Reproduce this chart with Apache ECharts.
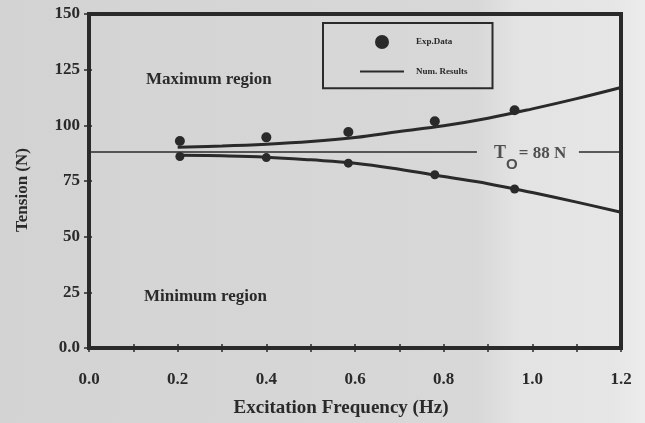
<!DOCTYPE html>
<html>
<head>
<meta charset="utf-8">
<script src="https://cdn.jsdelivr.net/npm/echarts@6/dist/echarts.min.js"></script>
<style>
html,body{margin:0;padding:0;background:#d6d6d6;}
#chart{width:645px;height:423px;}
</style>
</head>
<body>
<div id="chart"></div>
<script>
// Experimental data (dots)
const freqExp = [0.205, 0.4, 0.585, 0.78, 0.96];
const maxExp = [93, 94.6, 97, 101.8, 106.8];
const minExp = [86, 85.5, 83, 77.8, 71.4];
// Numerical results (curves)
const freqNum = [0.2, 0.3, 0.4, 0.5, 0.6, 0.7, 0.8, 0.9, 1.0, 1.1, 1.2];
const maxNum = [90.2, 90.7, 91.5, 92.7, 94.5, 97.2, 99.8, 103.2, 107.4, 112, 117];
const minNum = [86.6, 86.3, 85.7, 84.5, 83, 80.3, 77, 73.8, 69.8, 65.5, 61];
// Static tension line T0 with a gap for its label
const T0 = 88;
const t0LeftX = [0, 0.875];
const t0RightX = [1.105, 1.2];
const t0LabelX = 0.995;
// Axis ticks
const xTicks = [0.0, 0.2, 0.4, 0.6, 0.8, 1.0, 1.2];
const yTicks = [0, 25, 50, 75, 100, 125, 150];

const ink = '#2a2a2a';
const serif = '"Liberation Serif", "DejaVu Serif", serif';
const zip = (xs, ys) => xs.map((x, i) => [x, ys[i]]);

const tickStyle = {color: ink, width: 1.5};
const chart = echarts.init(document.getElementById('chart'));
chart.setOption({
  backgroundColor: new echarts.graphic.LinearGradient(0, 0, 1, 0, [
    {offset: 0, color: '#d3d3d3'},
    {offset: 0.74, color: '#d8d8d8'},
    {offset: 0.8, color: '#e3e3e3'},
    {offset: 0.95, color: '#e6e6e6'},
    {offset: 1, color: '#ececec'}
  ]),
  animation: false,
  grid: {left: 89, right: 24, top: 14, bottom: 71, show: true, borderColor: ink, borderWidth: 4, backgroundColor: 'transparent'},
  legend: {
    left: 323, top: 23, orient: 'vertical',
    itemWidth: 44, itemHeight: 14, itemGap: 17,
    padding: [12, 25, 11, 36],
    borderColor: ink, borderWidth: 2,
    data: [
      {name: 'Exp.Data', icon: 'circle'},
      {name: 'Num. Results', itemStyle: {opacity: 0}, lineStyle: {width: 2, color: ink}}
    ],
    textStyle: {fontFamily: serif, fontWeight: 'bold', fontSize: 9, color: ink, padding: [0, 0, 0, 7]}
  },
  xAxis: [{
    type: 'value', min: 0, max: 1.2, interval: 0.1, position: 'bottom',
    name: 'Excitation Frequency (Hz)', nameLocation: 'middle', nameGap: 51,
    nameTextStyle: {fontFamily: serif, fontWeight: 'bold', fontSize: 19, color: ink, padding: [0, 28, 0, 0]},
    axisLine: {show: true, lineStyle: {color: ink, width: 4}},
    axisTick: {show: true, length: 4, lineStyle: tickStyle},
    splitLine: {show: false},
    axisLabel: {
      margin: 23, fontFamily: serif, fontWeight: 'bold', fontSize: 17, color: ink,
      formatter: v => {
        const hit = xTicks.find(t => Math.abs(t - v) < 1e-6);
        return hit === undefined ? '' : hit.toFixed(1);
      }
    }
  }, {
    type: 'value', min: 0, max: 1.2, interval: 0.1, position: 'bottom',
    axisLine: {show: false}, axisLabel: {show: false}, splitLine: {show: false},
    axisTick: {show: true, inside: true, length: 4, lineStyle: tickStyle}
  }],
  yAxis: [{
    type: 'value', min: 0, max: 150, interval: 25, position: 'left',
    name: 'Tension (N)', nameLocation: 'middle', nameGap: 58,
    nameTextStyle: {fontFamily: serif, fontWeight: 'bold', fontSize: 17, color: ink, padding: [0, 18, 0, 0]},
    axisLine: {show: true, lineStyle: {color: ink, width: 4}},
    axisTick: {show: true, length: 5, lineStyle: tickStyle},
    splitLine: {show: false},
    axisLabel: {
      margin: 9, fontFamily: serif, fontWeight: 'bold', fontSize: 17, color: ink,
      formatter: v => (yTicks.includes(v) ? (v === 0 ? '0.0' : String(v)) : '')
    }
  }, {
    type: 'value', min: 0, max: 150, interval: 25, position: 'left',
    axisLine: {show: false}, axisLabel: {show: false}, splitLine: {show: false},
    axisTick: {show: true, inside: true, length: 3, lineStyle: tickStyle}
  }],
  graphic: [
    {type: 'text', left: 146, top: 71, style: {text: 'Maximum region', font: 'bold 17px ' + serif, fill: ink}},
    {type: 'text', left: 144, top: 288, style: {text: 'Minimum region', font: 'bold 17px ' + serif, fill: ink}}
  ],
  series: [
    {name: 'T0', type: 'line', data: zip(t0LeftX, [T0, T0]), symbol: 'none', lineStyle: {color: ink, width: 1.6}, z: 1},
    {name: 'T0', type: 'line', data: zip(t0RightX, [T0, T0]), symbol: 'none', lineStyle: {color: ink, width: 1.6}, z: 1},
    {
      name: 'T0 label', type: 'scatter', data: [[t0LabelX, T0]], symbolSize: 0,
      label: {
        show: true, position: 'inside', offset: [0, 3],
        formatter: '{t|T}{o|O}{r|= 88 N}',
        rich: {
          t: {fontFamily: serif, fontWeight: 'bold', fontSize: 18, color: ink, verticalAlign: 'bottom', padding: [0, 0, 4, 0]},
          o: {fontFamily: '"Liberation Sans", sans-serif', fontWeight: 'bold', fontSize: 15, color: ink, verticalAlign: 'bottom', padding: [0, 1, -6, 0]},
          r: {fontFamily: serif, fontWeight: 'bold', fontSize: 17, color: ink, verticalAlign: 'bottom', padding: [0, 0, 4, 0]}
        }
      }
    },
    {name: 'Num. Results', type: 'line', smooth: 0.4, data: zip(freqNum, maxNum), symbol: 'none', lineStyle: {color: ink, width: 3}, itemStyle: {color: ink}},
    {name: 'Num. Results', type: 'line', smooth: 0.4, data: zip(freqNum, minNum), symbol: 'none', lineStyle: {color: ink, width: 3}, itemStyle: {color: ink}},
    {name: 'Exp.Data', type: 'scatter', data: zip(freqExp, maxExp), symbolSize: 10, itemStyle: {color: ink, opacity: 1}},
    {name: 'Exp.Data', type: 'scatter', data: zip(freqExp, minExp), symbolSize: 9, itemStyle: {color: ink, opacity: 1}}
  ]
});
</script>
</body>
</html>
